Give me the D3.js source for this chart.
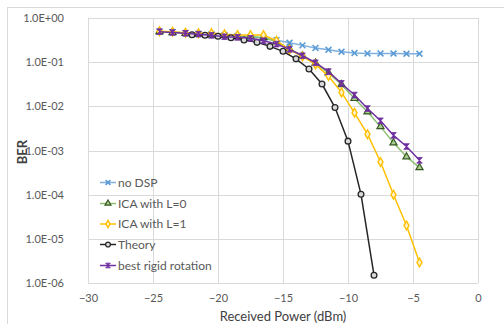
<!DOCTYPE html>
<html><head><meta charset="utf-8">
<script src="https://cdn.jsdelivr.net/npm/d3@7"></script>
<style>body{margin:0;background:#fff}svg{display:block}text{font-family:Lato,"Open Sans",sans-serif}</style>
</head><body><svg id="c" width="504" height="324"></svg>
<script>
const power = [-24.5,-23.5,-22.5,-21.5,-20.5,-19.5,-18.5,-17.5,-16.5,-15.5,-14.5,-13.5,-12.5,-11.5,-10.5,-9.5,-8.5,-7.5,-6.5,-5.5,-4.5];
const theoryPower = [-22,-21,-20,-19,-18,-17,-16,-15,-14,-13,-12,-11,-10,-9,-8];
const noDSP = [0.49,0.48,0.46,0.44,0.43,0.41,0.39,0.37,0.35,0.315,0.275,0.24,0.21,0.19,0.172,0.161,0.158,0.158,0.157,0.155,0.155];
const icaL0 = [0.49,0.47,0.45,0.43,0.41,0.40,0.38,0.38,0.36,0.29,0.20,0.14,0.095,0.057,0.031,0.0151,0.0075,0.00347,0.00149,0.00072,0.00041];
const icaL1 = [0.50,0.49,0.465,0.45,0.455,0.43,0.41,0.41,0.41,0.306,0.19,0.135,0.089,0.0484,0.0207,0.00713,0.00234,0.00055,0.0001,0.00002,0.0000029];
const theory = [0.418,0.405,0.385,0.357,0.317,0.281,0.228,0.176,0.119,0.070,0.032,0.0094,0.00163,0.000102,0.0000015];
const rigid = [0.49,0.47,0.45,0.43,0.405,0.377,0.365,0.346,0.306,0.257,0.195,0.14,0.097,0.061,0.033,0.018,0.0089,0.0047,0.0022,0.00123,0.0006];
const seriesNames = ["no DSP","ICA with L=0","ICA with L=1","Theory","best rigid rotation"];
const xTicks = [-30,-25,-20,-15,-10,-5,0];
const yTicks = [1,1e-1,1e-2,1e-3,1e-4,1e-5,1e-6];
const yTickLabels = ["1.0E+00","1.0E-01","1.0E-02","1.0E-03","1.0E-04","1.0E-05","1.0E-06"];

const svg = d3.select("#c");
const L=88,R=478,T=18,B=283;
const x = d3.scaleLinear().domain([-30,0]).range([L,R]);
const y = d3.scaleLog().domain([1e-6,1]).range([B,T]);

svg.append("rect").attr("x",7.5).attr("y",7.5).attr("width",620).attr("height",400)
  .attr("fill","none").attr("stroke","#d9d9d9");

const grid = svg.append("g").attr("stroke","#d9d9d9").attr("stroke-width",1);
yTicks.forEach(v=>grid.append("line").attr("x1",L).attr("x2",R).attr("y1",Math.round(y(v))+0.5).attr("y2",Math.round(y(v))+0.5));
xTicks.forEach(v=>grid.append("line").attr("y1",T).attr("y2",B).attr("x1",Math.round(x(v))+0.5).attr("x2",Math.round(x(v))+0.5));

const yAxis = d3.axisLeft(y).tickValues(yTicks).tickSize(0).tickPadding(0)
  .tickFormat((d,i)=>yTickLabels[i]);
svg.append("g").attr("transform","translate(64,0)").call(yAxis)
  .call(g=>g.select(".domain").remove())
  .selectAll("text").attr("font-size",11).attr("fill","#595959").attr("font-family","Lato,sans-serif");
const xAxis = d3.axisBottom(x).tickValues(xTicks).tickSize(0).tickPadding(0).tickFormat(d3.format("d"));
svg.append("g").attr("transform","translate(0,294)").call(xAxis)
  .call(g=>g.select(".domain").remove())
  .selectAll("text").attr("font-size",11).attr("fill","#595959").attr("font-family","Lato,sans-serif");

svg.append("text").attr("x",(L+R)/2).attr("y",321).attr("text-anchor","middle")
  .attr("font-size",13).attr("fill","#404040").text("Received Power (dBm)");
svg.append("text").attr("transform","translate(27,152) rotate(-90)").attr("text-anchor","middle")
  .attr("font-size",13).attr("font-weight","bold").attr("fill","#404040").text("BER");

const hourglass = {draw(ctx,size){const s=Math.sqrt(size)/2;ctx.moveTo(-s,-s);ctx.lineTo(s,-s);ctx.lineTo(-s,s);ctx.lineTo(s,s);ctx.closePath();}};
const styles = [
  {line:"#7fb0e0", sym:d3.symbolX, size:24, fill:"none", stroke:"#5b9bd5", sw:1.6},
  {line:"#8cc070", sym:d3.symbolTriangle, size:22, fill:"#a9d18e", stroke:"#375623", sw:1.2},
  {line:"#ffc000", sym:d3.symbolDiamond, size:22, fill:"#fff2cc", stroke:"#ffc000", sw:1.4},
  {line:"#262626", sym:d3.symbolCircle, size:26, fill:"#d9d9d9", stroke:"#262626", sw:1.3},
  {line:"#7030a0", sym:hourglass, size:32, fill:"#7030a0", stroke:"#7030a0", sw:0.8}
];
const seriesData = [
  power.map((p,i)=>[p,noDSP[i]]),
  power.map((p,i)=>[p,icaL0[i]]),
  power.map((p,i)=>[p,icaL1[i]]),
  theoryPower.map((p,i)=>[p,theory[i]]),
  power.map((p,i)=>[p,rigid[i]])
];
const line = d3.line().x(d=>x(d[0])).y(d=>y(d[1]));
seriesData.forEach((data,k)=>{
  const st=styles[k];
  const g=svg.append("g");
  g.append("path").attr("d",line(data)).attr("fill","none").attr("stroke",st.line).attr("stroke-width",1.5);
  g.selectAll("path.m").data(data).join("path").attr("class","m")
    .attr("transform",d=>`translate(${x(d[0])},${y(d[1])})`)
    .attr("d",d3.symbol(st.sym,st.size)).attr("fill",st.fill).attr("stroke",st.stroke).attr("stroke-width",st.sw);
});

const legY=[182.5,203.5,224,244.5,265.5];
seriesNames.forEach((n,k)=>{
  const st=styles[k];
  const g=svg.append("g").attr("transform",`translate(0,${legY[k]})`);
  g.append("line").attr("x1",100).attr("x2",116).attr("stroke",st.line).attr("stroke-width",1.5);
  g.append("path").attr("transform","translate(108,0)").attr("d",d3.symbol(st.sym,st.size*0.7))
    .attr("fill",st.fill).attr("stroke",st.stroke).attr("stroke-width",st.sw);
  g.append("text").attr("x",118).attr("y",0).attr("dy","0.35em").attr("font-size",12).attr("fill","#595959").text(n);
});
</script></body></html>
